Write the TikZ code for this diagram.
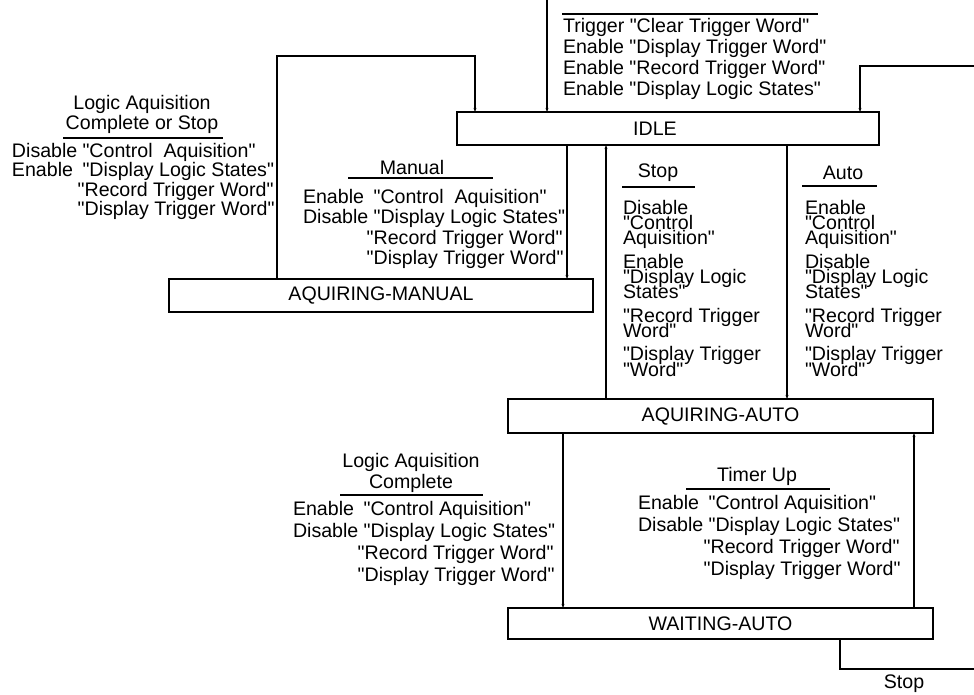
\documentclass[tikz,border=0pt]{standalone}
\usepackage{fontspec}
\setmainfont{Liberation Sans}[Ligatures=TeXOff]
\usetikzlibrary{arrows.meta}
\lineskiplimit=-100pt
\newcommand\pfx[1]{\makebox[3.6em][l]{#1}}
\newcommand\ind[1]{\hspace*{#1em}}
\begin{document}
\begin{tikzpicture}[x=0.75pt,y=-0.75pt,
  every node/.style={inner sep=0pt, outer sep=0pt},
  txt/.style={font=\fontsize{14.7}{#1}\selectfont, align=left, anchor=north west},
  txt/.default=15,
  ttl/.style={font=\fontsize{14.7}{#1}\selectfont, align=center},
  ttl/.default=15,
  col/.style={font=\fontsize{14.7}{11.5}\selectfont, align=left, anchor=north west},
  state/.style={draw, line width=0.9pt, font=\fontsize{14.7}{15}\selectfont},
  arr/.style={line width=0.9pt, -{Stealth[length=3pt,width=2.2pt]}},
  wire/.style={line width=0.9pt},
  uline/.style={line width=0.8pt}]
\useasboundingbox (0,0) rectangle (974,694);

% states
\node[state, minimum width=316.5pt, minimum height=24.75pt] (idle) at (668,128.5) {\hspace*{-19.5pt}IDLE};
\node[state, minimum width=318pt, minimum height=24.75pt] (am) at (381,295.5) {AQUIRING-MANUAL};
\node[state, minimum width=318.75pt, minimum height=25.5pt] (aa) at (720.5,416) {AQUIRING-AUTO};
\node[state, minimum width=318.75pt, minimum height=23.25pt] (wa) at (720.5,623.5) {WAITING-AUTO};

% helper coordinates
\coordinate (xtop) at (547,0);
\coordinate (xlm) at (277,0);
\coordinate (bend1) at (277,56);
\coordinate (xli) at (475,0);
\coordinate (xman) at (567,0);
\coordinate (xstop) at (606,0);
\coordinate (xauto) at (787,0);
\coordinate (xlac) at (563,0);
\coordinate (xtim) at (914,0);
\coordinate (xws) at (840,0);
\coordinate (exitR) at (974,669);
\coordinate (entR) at (974,66);
\coordinate (xir) at (860,0);

% connectors
\draw[arr] (xtop) -- (idle.north -| xtop);
\draw[arr] (am.north -| xlm) -- (bend1) -| (idle.north -| xli);
\draw[arr] (idle.south -| xman) -- (am.north -| xman);
\draw[arr] (aa.north -| xstop) -- (idle.south -| xstop);
\draw[arr] (idle.south -| xauto) -- (aa.north -| xauto);
\draw[arr] (aa.south -| xlac) -- (wa.north -| xlac);
\draw[arr] (wa.north -| xtim) -- (aa.south -| xtim);
\draw[wire] (wa.south -| xws) |- (exitR);
\draw[arr] (entR) -| (idle.north -| xir);

% trigger block (top)
\draw[uline] (562,14) -- (818,14);
\node[txt=15.75] (trg) at (563,18) {Trigger "Clear Trigger Word"\\Enable "Display Trigger Word"\\Enable "Record Trigger Word"\\Enable "Display Logic States"};

% left block
\node[ttl, anchor=north] (lt) at (142,95) {Logic Aquisition\\Complete or Stop};
\draw[uline] (63,138) -- (223,138);
\node[txt=14.6] (lb) at (12,143) {\pfx{Disable}"Control\ \ Aquisition"\\\pfx{Enable}"Display Logic States"\\\ind{3.35}"Record Trigger Word"\\\ind{3.35}"Display Trigger Word"};

% manual block
\node[ttl] (mt) at (412,167) {Manual};
\draw[uline] (348,178) -- (493,178);
\node[txt=15.4] (mb) at (303,189) {\pfx{Enable}"Control\ \ Aquisition"\\\pfx{Disable}"Display Logic States"\\\ind{3.25}"Record Trigger Word"\\\ind{3.25}"Display Trigger Word"};

% stop column
\node[ttl] (st) at (658,173) {Stop};
\draw[uline] (622,187) -- (695,187);
\node[col] (sc) at (623,200) {Disable\\"Control\\Aquisition"\\[6pt]Enable\\"Display Logic\\States"\\[6pt]"Record Trigger\\Word"\\[6pt]"Display Trigger\\"Word"};

% auto column
\node[ttl] (at) at (843,173) {Auto};
\draw[uline] (802,186) -- (877,186);
\node[col] (ac) at (805,200) {Enable\\"Control\\Aquisition"\\[6pt]Disable\\"Display Logic\\States"\\[6pt]"Record Trigger\\Word"\\[6pt]"Display Trigger\\"Word"};

% lower left block
\node[ttl=15.75, anchor=north] (llt) at (411,453) {Logic Aquisition\\Complete};
\draw[uline] (340,495) -- (483,495);
\node[txt=16.5] (llb) at (293,501) {\pfx{Enable}"Control Aquisition"\\\pfx{Disable}"Display Logic States"\\\ind{3.3}"Record Trigger Word"\\\ind{3.3}"Display Trigger Word"};

% timer up block
\node[ttl] (tt) at (757,476) {Timer Up};
\draw[uline] (686,489) -- (830,489);
\node[txt=16.5] (tb) at (638,495) {\pfx{Enable}"Control Aquisition"\\\pfx{Disable}"Display Logic States"\\\ind{3.35}"Record Trigger Word"\\\ind{3.35}"Display Trigger Word"};

% stop label bottom right
\node[ttl] (sl) at (904,684) {Stop};
\end{tikzpicture}
\end{document}
